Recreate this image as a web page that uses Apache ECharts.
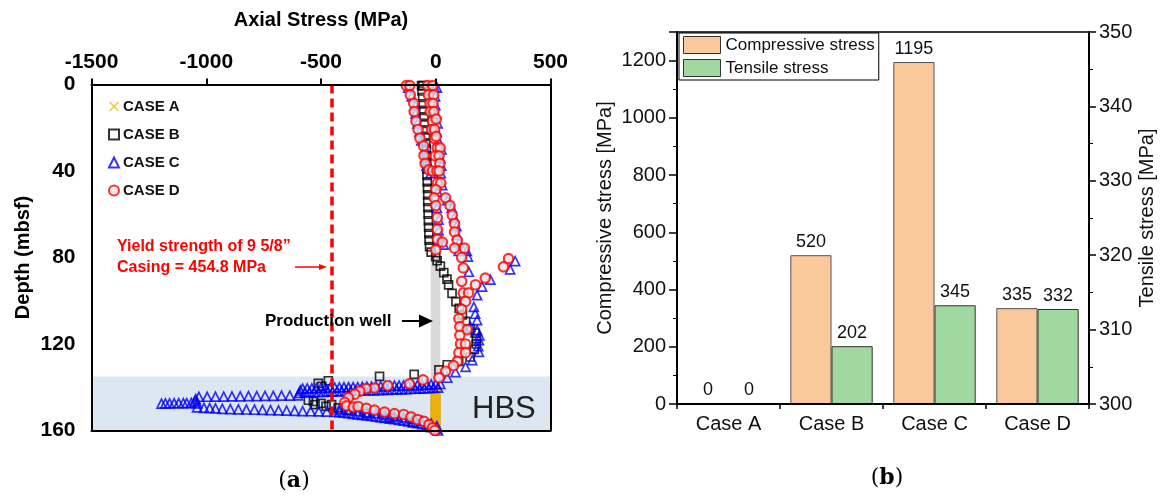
<!DOCTYPE html>
<html>
<head>
<meta charset="utf-8">
<script src="https://cdn.jsdelivr.net/npm/echarts@6/dist/echarts.min.js"></script>
<style>html,body{margin:0;padding:0;background:#fff}#c{width:1161px;height:498px}</style>
</head>
<body>
<div id="c"></div>
<script>
// ---------- Panel (a): axial stress profiles [stress MPa, depth mbsf] ----------
const caseA = [[0,140],[0,141],[0,142],[0,143],[0,144],[0,145],[0,146],[0,147],[0,148],[0,149],[0,150],[0,151],[0,152],[0,153],[0,154],[0,155],[0,156],[0,157],[0,158],[0,159],[0,160]];
const caseB = [
[-62,0.5],[-56,0.5],[-60,3],[-57,6],[-55,9],[-53,12],[-51,15],[-49,18],[-47,21],[-45,24],[-43,27],[-41,30],[-40,33],[-39,36],[-38,39],[-38,42],[-37,45],[-36,48],[-35,51],[-35,54],[-34,57],[-33,60],[-32,63],[-31,66],[-30,69],[-29,72],[-27,75],[-20,77.5],
[0,79.6],[6,81.5],[20,84],[35,87],[49,90],[56,92.7],[71,96.6],[88,100.4],[102,103.5],[116,106.5],[130,109.5],[151,113],[172,115],[178,117.5],[176,120],[168,122.5],[150,126],[100,128],[50,129.6],[14,132],
[-94,134],[-245,135],[-468,137],[-512,138.2],[-497,139.6],[-533,146.6],[-555,146],[-526,148],[-500,147.5],[-478,148.8],[-454,148],[-425,149.5],[-380,150.6],[-300,152.2],[-200,154.2],[-100,156.2],[-30,158.5]
];
const caseC = [
[-120,1.5],[-5,1.5],[5,1.5],[-105,5.5],[-3,5.5],[-90,9.5],[-2,9.5],[-88,13.5],[0,13.5],[-80,18],[8,18],[-71,21.8],[3,21.8],[-63,25.8],[10,25.8],[-47,29.5],[25,30],[-45,33.8],[20,34],[-40,37.5],[24,37.5],[-22,41],[22,41],[28,46.5],[8,49.5],[50,53.5],[5,57],[70,57],[12,62.5],[80,61.5],[12,67.5],[90,65.5],[12,72.5],[92,69.5],[102,73],[35,74],[100,77],[135,77],
[140,79.6],[346,81.7],[324,85.5],[144,86.6],[238,90.2],[202,93.5],[180,97.4],[166,102.8],[172,106],[180,109],[151,112],[180,113.6],[190,116],[188,118.2],[185,121],[188,123.6],[159,127.5],[130,130.6],[86,133],[50,135.6],
[20,138.5],[0,138.6],[-20,138.7],[-40,138.8],[-60,138.9],[-80,139],[-100,139],[-120,139.1],[-140,139.2],[-160,139.3],[-180,139.3],[-200,139.4],[-220,139.5],[-240,139.5],[-260,139.6],[-280,139.7],[-300,139.7],[-320,139.8],[-340,139.9],[-360,139.9],[-380,140],[-400,140],[-420,140.1],[-440,140.2],[-460,140.2],[-480,140.3],[-500,140.3],[-520,140.4],[-540,140.5],[-560,140.5],[-580,140.6],
[10,140.2],[-10,140.3],[-30,140.4],[-50,140.5],[-70,140.6],[-90,140.7],[-110,140.8],[-130,140.9],[-150,141],[-170,141],[-190,141.1],[-210,141.2],[-230,141.2],[-250,141.3],[-270,141.4],[-290,141.4],[-310,141.5],[-330,141.6],[-350,141.6],[-370,141.7],[-390,141.8],[-410,141.8],[-430,141.9],[-450,142],[-470,142],[-490,142.1],[-510,142.2],[-530,142.2],[-550,142.3],[-570,142.4],[-590,141.5],[-595,142.6],
[-600,143.8],[-636,143.9],[-672,143.9],[-708,144],[-744,144],[-780,144.1],[-816,144.1],[-852,144.2],[-888,144.2],[-924,144.3],[-960,144.3],[-996,144.4],[-1032,144.4],[-1046,145.5],[-1050,146.5],[-1040,147.5],
[-1065,147.2],[-1085,147.3],[-1100,147.3],[-1120,147.4],[-1140,147.4],[-1160,147.5],[-1178,147.5],[-1195,147.6],
[-1040,149.3],[-1010,149.5],[-985,149.6],[-960,149.8],[-930,150],[-895,150.1],[-860,150.2],[-825,150.3],[-790,150.4],[-755,150.5],[-720,150.6],[-685,150.7],[-650,150.8],[-615,150.9],[-580,151],[-545,151.1],[-510,151.2],[-475,151.3],[-441,151.4],
[-420,151.5],[-400,151.8],[-380,152],[-360,152.3],[-340,152.5],[-320,152.8],[-300,153],[-280,153.3],[-260,153.6],[-240,153.9],[-220,154.2],[-200,154.5],[-180,154.8],[-160,155.1],[-140,155.4],[-120,155.8],[-100,156.2],[-80,156.6],[-60,157.1],[-40,157.7],[-20,158.4],[0,159.2],[10,160],
[-420,150.2],[-380,150.6],[-340,151],[-300,151.5],[-260,152],[-220,152.6],[-180,153.2],[-140,153.9],[-100,154.6],[-60,155.5],[-20,156.8],[5,158]
];
const caseD = [
[-128,0.5],[-113,0.5],[-36,0.5],[-13,0.5],
[-111,4.8],[-32,4.8],[-9,4.8],
[-96,8.7],[-25,8.7],[-12,8.7],
[-94,12.5],[-24,12.5],[-8,12.5],
[-86,17],[-14,17],[2,16],
[-77,20.8],[-18,20.8],[-5,20.8],
[-69,24.8],[-5,25],[2,24],
[-53,28.4],[7,29.3],[19,29.3],
[-51,32.8],[-2,33],[14,33],
[-46,36.5],[18,36.5],
[-30,39.5],[-14,40],[5,40],[15,40],
[8,45.5],[22,45.5],[0,48.6],[-7,52.4],[43,52.4],[0,56],[62,56],[7,61.6],[72,60.4],[82,64.3],[7,67],[82,68.2],[7,71.6],[94,72],[29,72.9],[0,76.5],[82,75.7],[125,75.7],
[113,80],[317,80.5],[295,84.3],[120,84.8],[216,89.5],[113,91],[173,92.6],[120,96.4],[143,96.4],[130,100.3],[113,104],[101,108.3],[105,112],[137,113.4],[105,116],[108,120],[130,120],[101,124],[130,124],[94,128],[77,130],[43,132.6],[14,135.6],
[-55,136.6],[-115,138.4],[-209,139.3],[-267,140.4],[-303,140.6],[-331,141.8],[-353,143.2],[-381,144.8],[-396,147],[-389,148.6],[-359,149.2],[-338,148.9],[-302,149.8],[-267,150.6],[-223,151.5],[-180,152.2],[-140,152.6],[-108,153.7],[-79,155],[-51,155.8],[-29,157.3],[-14,158.8],[-4,160]
];
const yieldStrength = -454.8;      // casing yield strength (MPa, compressive)
const hbsZone = [135, 160];        // hydrate-bearing sediment depth range
const wellGrey = [-22, 20, 78, 138];
const wellGold = [-24, 22, 140, 160];
const stressTicks = [-1500, 500, 500];  // min, max, interval
const depthTicks = [0, 160, 40];

// ---------- Panel (b): maximum stresses ----------
const cases = ['Case A', 'Case B', 'Case C', 'Case D'];
const compressive = [0, 520, 1195, 335];
const tensile = [0, 202, 345, 332];

const F = '"Liberation Sans", Arial, sans-serif';
const chart = echarts.init(document.getElementById('c'), null, {renderer: 'canvas'});
const xPath = 'path://M1,0 L5,4 L9,0 L10,1 L6,5 L10,9 L9,10 L5,6 L1,10 L0,9 L4,5 L0,1 Z';
const plain = v => String(v);

const frameAxisCommon = {axisLine: {show: true, onZero: false, lineStyle: {color: '#000', width: 2}}, axisTick: {show: false}, axisLabel: {show: false}, splitLine: {show: false}, z: 10};

chart.setOption({
  animation: false,
  textStyle: {fontFamily: F},
  grid: [
    {left: 91.5, top: 84.5, width: 459, height: 346},
    {left: 677, top: 32, width: 412, height: 372, show: true, borderColor: '#000', borderWidth: 1.5, backgroundColor: 'transparent'}
  ],
  xAxis: [
    {gridIndex: 0, type: 'value', position: 'top', min: stressTicks[0], max: stressTicks[1], interval: stressTicks[2],
     name: 'Axial Stress (MPa)', nameLocation: 'middle', nameGap: 54,
     nameTextStyle: {fontFamily: F, fontWeight: 'bold', fontSize: 20, color: '#000'},
     axisLine: {show: true, onZero: false, lineStyle: {color: '#000', width: 2}},
     axisTick: {show: true, inside: false, length: 6, lineStyle: {color: '#000', width: 2}},
     axisLabel: {fontFamily: F, fontWeight: 'bold', fontSize: 21, color: '#000', margin: 12, formatter: plain},
     splitLine: {show: false}, z: 10},
    Object.assign({gridIndex: 0, type: 'value', position: 'bottom', min: stressTicks[0], max: stressTicks[1], interval: stressTicks[2]}, frameAxisCommon),
    {gridIndex: 1, type: 'category', data: cases,
     axisLine: {show: true, onZero: false, lineStyle: {color: '#000', width: 2}},
     axisTick: {show: true, length: 5, lineStyle: {color: '#000', width: 1.5}},
     axisLabel: {fontFamily: F, fontSize: 20, color: '#111', margin: 10}, z: 10}
  ],
  yAxis: [
    {gridIndex: 0, type: 'value', inverse: true, min: depthTicks[0], max: depthTicks[1], interval: depthTicks[2],
     name: 'Depth (mbsf)', nameLocation: 'middle', nameGap: 58,
     nameTextStyle: {fontFamily: F, fontWeight: 'bold', fontSize: 20, color: '#000'},
     axisLine: {show: true, onZero: false, lineStyle: {color: '#000', width: 2}},
     axisTick: {show: false},
     axisLabel: {fontFamily: F, fontWeight: 'bold', fontSize: 21, color: '#000', margin: 16, formatter: plain},
     splitLine: {show: false}, z: 10},
    Object.assign({gridIndex: 0, type: 'value', position: 'right', inverse: true, min: depthTicks[0], max: depthTicks[1], interval: depthTicks[2]}, frameAxisCommon),
    {gridIndex: 1, type: 'value', min: 0, max: 1300, interval: 200,
     name: 'Compressive stress [MPa]', nameLocation: 'middle', nameGap: 62,
     nameTextStyle: {fontFamily: F, fontSize: 20, color: '#111'},
     axisLine: {show: true, onZero: false, lineStyle: {color: '#000', width: 2}},
     axisTick: {show: true, length: 8, lineStyle: {color: '#000', width: 1.5}},
     minorTick: {show: true, splitNumber: 2, length: 4, lineStyle: {color: '#000', width: 1}},
     axisLabel: {fontFamily: F, fontSize: 20, color: '#111', margin: 11, showMaxLabel: false, formatter: plain},
     splitLine: {show: false}, z: 10},
    {gridIndex: 1, type: 'value', position: 'right', min: 300, max: 350, interval: 10,
     name: 'Tensile stress [MPa]', nameLocation: 'middle', nameGap: 48,
     nameTextStyle: {fontFamily: F, fontSize: 20, color: '#111'},
     axisLine: {show: true, onZero: false, lineStyle: {color: '#000', width: 2}},
     axisTick: {show: true, length: 7, lineStyle: {color: '#000', width: 1.5}},
     minorTick: {show: true, splitNumber: 2, length: 4, lineStyle: {color: '#000', width: 1}},
     axisLabel: {fontFamily: F, fontSize: 20, color: '#111', margin: 10, formatter: plain},
     splitLine: {show: false}, z: 10}
  ],
  legend: [
    {data: ['CASE A', 'CASE B', 'CASE C', 'CASE D'], orient: 'vertical', left: 108, top: 99,
     itemWidth: 10, itemHeight: 10, itemGap: 13, padding: 0, selectedMode: false,
     textStyle: {fontFamily: F, fontWeight: 'bold', fontSize: 15, color: '#111', padding: [0, 0, 0, -1]}},
    {data: ['Compressive stress', 'Tensile stress'], orient: 'vertical', left: 679, top: 33,
     icon: 'rect', itemWidth: 37, itemHeight: 17, itemGap: 5, padding: [3, 4, 3, 4], selectedMode: false,
     borderColor: '#000', borderWidth: 1, backgroundColor: '#fff',
     itemStyle: {borderColor: '#333', borderWidth: 1},
     textStyle: {fontFamily: F, fontSize: 17, color: '#111'}}
  ],
  series: [
    {name: 'CASE A', type: 'scatter', xAxisIndex: 0, yAxisIndex: 0, data: caseA,
     symbol: xPath, symbolSize: 9, itemStyle: {color: '#f0b400'},
     markArea: {silent: true, data: [
       [{xAxis: stressTicks[0], yAxis: hbsZone[0], itemStyle: {color: '#dde7f2'}}, {xAxis: stressTicks[1], yAxis: hbsZone[1]}],
       [{xAxis: wellGrey[0], yAxis: wellGrey[2], itemStyle: {color: '#d9d9d9'}}, {xAxis: wellGrey[1], yAxis: wellGrey[3]}],
       [{xAxis: wellGold[0], yAxis: wellGold[2], itemStyle: {color: '#d6aa2c'}}, {xAxis: wellGold[1], yAxis: wellGold[3]}]
     ]},
     markLine: {silent: true, symbol: 'none', label: {show: false},
       lineStyle: {color: '#ff0000', width: 3.5, type: [9, 5]},
       data: [{xAxis: yieldStrength}]}},
    {name: 'CASE B', type: 'scatter', xAxisIndex: 0, yAxisIndex: 0, data: caseB,
     symbol: 'rect', symbolSize: 8, itemStyle: {color: 'rgba(255,255,255,0)', borderColor: '#000', borderWidth: 1.7}},
    {name: 'CASE C', type: 'scatter', xAxisIndex: 0, yAxisIndex: 0, data: caseC,
     symbol: 'triangle', symbolSize: 9, itemStyle: {color: 'rgba(255,255,255,0)', borderColor: '#0000ff', borderWidth: 1.7}},
    {name: 'CASE D', type: 'scatter', xAxisIndex: 0, yAxisIndex: 0, data: caseD,
     symbol: 'circle', symbolSize: 9.5, itemStyle: {color: '#e3e3e3', borderColor: '#ff0000', borderWidth: 2.2}},
    {name: 'Compressive stress', type: 'bar', xAxisIndex: 2, yAxisIndex: 2, data: compressive,
     barWidth: '40%', barGap: '0%',
     itemStyle: {color: '#f9c89b', borderColor: '#555', borderWidth: 1},
     label: {show: true, position: 'top', distance: 4, fontFamily: F, fontSize: 18, color: '#111'}},
    {name: 'Tensile stress', type: 'bar', xAxisIndex: 2, yAxisIndex: 2, data: tensile,
     barWidth: '40%', barGap: '0%',
     itemStyle: {color: '#a0d8a0', borderColor: '#333', borderWidth: 1},
     label: {show: true, position: 'top', distance: 4, fontFamily: F, fontSize: 18, color: '#111'}}
  ],
  graphic: [
    {type: 'text', z: 20, style: {text: 'Yield strength of 9 5/8\u201D', x: 117, y: 246.5, fill: '#ff0000', font: 'bold 16px ' + F, verticalAlign: 'middle'}},
    {type: 'text', z: 20, style: {text: 'Casing = 454.8 MPa', x: 117, y: 268, fill: '#ff0000', font: 'bold 16px ' + F, verticalAlign: 'middle'}},
    {type: 'line', z: 20, shape: {x1: 295, y1: 267, x2: 320, y2: 267}, style: {stroke: '#ff0000', lineWidth: 1.5}},
    {type: 'polygon', z: 20, shape: {points: [[319, 264], [327, 267], [319, 270]]}, style: {fill: '#ff0000'}},
    {type: 'text', z: 20, style: {text: 'Production well', x: 265, y: 321, fill: '#000', font: 'bold 17px ' + F, verticalAlign: 'middle'}},
    {type: 'line', z: 20, shape: {x1: 402, y1: 321, x2: 420, y2: 321}, style: {stroke: '#000', lineWidth: 2}},
    {type: 'polygon', z: 20, shape: {points: [[419, 314.5], [433, 321], [419, 327.5]]}, style: {fill: '#000'}},
    {type: 'text', z: 20, style: {text: 'HBS', x: 472, y: 409, fill: '#222', font: '31px ' + F, verticalAlign: 'middle'}},
    {type: 'text', z: 20, style: {text: '({b|a})', x: 294, y: 481, fill: '#000', font: '22px "DejaVu Serif", "Liberation Serif", serif', align: 'center', verticalAlign: 'middle',
      rich: {b: {fontWeight: 'bold', fontSize: 22, fontFamily: '"DejaVu Serif", "Liberation Serif", serif'}}}},
    {type: 'text', z: 20, style: {text: '({b|b})', x: 887, y: 478, fill: '#000', font: '22px "DejaVu Serif", "Liberation Serif", serif', align: 'center', verticalAlign: 'middle',
      rich: {b: {fontWeight: 'bold', fontSize: 22, fontFamily: '"DejaVu Serif", "Liberation Serif", serif'}}}}
  ]
});
</script>
</body>
</html>
